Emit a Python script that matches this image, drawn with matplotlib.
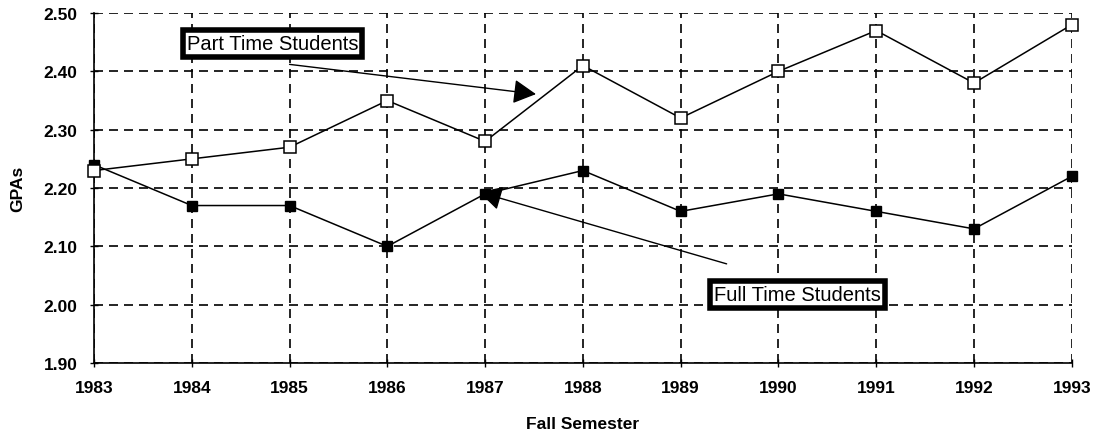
import numpy as np
import matplotlib.pyplot as plt

years = [1983, 1984, 1985, 1986, 1987, 1988, 1989, 1990, 1991, 1992, 1993]
part_time = [2.23, 2.25, 2.27, 2.35, 2.28, 2.41, 2.32, 2.40, 2.47, 2.38, 2.48]
full_time = [2.24, 2.17, 2.17, 2.10, 2.19, 2.23, 2.16, 2.19, 2.16, 2.13, 2.22]
y_ticks = [1.90, 2.00, 2.10, 2.20, 2.30, 2.40, 2.50]

plt.rcParams['font.family'] = ['Liberation Sans', 'DejaVu Sans']

fig = plt.figure(figsize=(10.97, 4.39), dpi=100)
ax = fig.add_axes([0.0857, 0.1708, 0.8913, 0.7972])

ax.plot(years, full_time, color='black', lw=1.1, marker='s', markersize=7,
        markerfacecolor='black', markeredgecolor='black', zorder=3, clip_on=False)
ax.plot(years, part_time, color='black', lw=1.1, marker='s', markersize=8,
        markerfacecolor='white', markeredgecolor='black', markeredgewidth=1.1,
        zorder=4, clip_on=False)

ax.set_xlim(1983, 1993)
ax.set_ylim(1.90, 2.50)
ax.set_xticks(years)
ax.set_yticks(y_ticks)
ax.set_yticklabels([f"{v:.2f}" for v in y_ticks])
ax.grid(True, color='black', linestyle=(0, (5.4, 3.6)), lw=1.2)
ax.set_axisbelow(True)

for s in ['top', 'right']:
    ax.spines[s].set_visible(False)
ax.spines['left'].set_linewidth(1.2)
ax.spines['bottom'].set_linewidth(1.2)
ax.tick_params(direction='inout', length=6, width=1, pad=9)
for lbl in ax.get_xticklabels() + ax.get_yticklabels():
    lbl.set_fontweight('bold')
    lbl.set_fontsize(12.5)

ax.set_xlabel('Fall Semester', fontweight='bold', fontsize=12.5, labelpad=15)
ax.set_ylabel('GPAs', fontweight='bold', fontsize=12.5, labelpad=13)

box = dict(boxstyle='square,pad=0.2', facecolor='white', edgecolor='black', lw=4)
arrow = dict(arrowstyle='-|>,head_length=1.4,head_width=0.75', color='black', lw=1, shrinkA=0, shrinkB=0)

ax.text(1983.95, 2.447, 'Part Time Students', fontsize=14.5, ha='left', va='center', bbox=box)
ax.annotate('', xy=(1987.52, 2.361), xytext=(1985.0, 2.412), arrowprops=arrow)

ax.text(1989.34, 2.018, 'Full Time Students', fontsize=14.5, ha='left', va='center', bbox=box)
ax.annotate('', xy=(1986.94, 2.193), xytext=(1989.47, 2.070), arrowprops=arrow)

fig.savefig('out.png', dpi=100)
